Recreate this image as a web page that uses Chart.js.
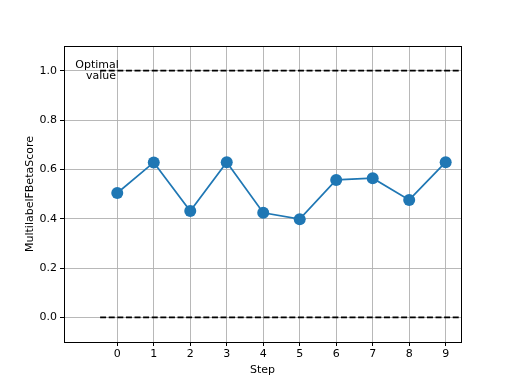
<!DOCTYPE html>
<html>
<head>
<meta charset="utf-8">
<script src="https://cdn.jsdelivr.net/npm/chart.js@4"></script>
<style>
  html, body { margin: 0; padding: 0; background: #fff; }
  #wrap { width: 512px; height: 384px; }
</style>
</head>
<body>
<div id="wrap"><canvas id="chart" width="512" height="384"></canvas></div>
<script>
const steps = [0, 1, 2, 3, 4, 5, 6, 7, 8, 9];
const scores = [0.504, 0.628, 0.431, 0.629, 0.424, 0.398, 0.557, 0.564, 0.476, 0.629];
const optimalValue = 1.0;
const worstValue = 0.0;
const refLineStart = -0.47;
const xTicks = [0, 1, 2, 3, 4, 5, 6, 7, 8, 9];
const yTicks = [0.0, 0.2, 0.4, 0.6, 0.8, 1.0];
const xRange = [-1.46, 9.42];
const yRange = [-0.1, 1.1];

Chart.defaults.font.family = "'DejaVu Sans', sans-serif";
Chart.defaults.font.size = 11;
Chart.defaults.color = '#000';

let frame = {
  id: 'frame',
  afterDraw(chart) {
    const ctx = chart.ctx, a = chart.chartArea;
    ctx.save();
    ctx.strokeStyle = '#000';
    ctx.lineWidth = 1;
    ctx.strokeRect(Math.round(a.left) + 0.5, Math.round(a.top) + 0.5,
      Math.round(a.right - a.left), Math.round(a.bottom - a.top));
    // label next to the optimal line
    const xs = chart.scales.x, ys = chart.scales.y;
    const cx = xs.getPixelForValue(-0.555);
    const cy = ys.getPixelForValue(optimalValue);
    ctx.fillStyle = '#000';
    ctx.font = "11px 'DejaVu Sans'";
    ctx.textAlign = 'center';
    ctx.textBaseline = 'middle';
    ctx.fillText('Optimal', cx, cy - 6);
    ctx.fillText('value', cx + 4, cy + 5);
    ctx.restore();
  }
};

const config = {
  type: 'line',
  data: {
    datasets: [{
      label: 'score',
      data: steps.map((s, i) => ({x: s, y: scores[i]})),
      borderColor: '#1f77b4',
      backgroundColor: '#1f77b4',
      borderWidth: 1.7,
      pointRadius: 6,
      pointHoverRadius: 6,
      pointBorderWidth: 0,
      order: 1
    }, {
      label: 'optimal',
      data: [{x: refLineStart, y: optimalValue}, {x: xRange[1], y: optimalValue}],
      borderColor: '#000',
      borderWidth: 1.7,
      borderDash: [6, 2.6],
      pointRadius: 0,
      order: 2
    }, {
      label: 'worst',
      data: [{x: refLineStart, y: worstValue}, {x: xRange[1], y: worstValue}],
      borderColor: '#000',
      borderWidth: 1.7,
      borderDash: [6, 2.6],
      pointRadius: 0,
      order: 2
    }]
  },
  options: {
    responsive: false,
    animation: false,
    events: [],
    layout: { padding: { top: 46, right: 51, left: 0, bottom: 0 } },
    plugins: { legend: { display: false }, tooltip: { enabled: false } },
    scales: {
      x: {
        type: 'linear',
        min: xRange[0],
        max: xRange[1],
        afterBuildTicks: (s) => { s.ticks = xTicks.map(v => ({value: v})); },
        afterFit: (s) => { s.height = 42; },
        ticks: { padding: 2, callback: (v) => v.toString() },
        grid: { color: '#b0b0b0', lineWidth: 0.9, tickColor: '#000', tickLength: 4, tickWidth: 1 },
        border: { display: false },
        title: { display: true, text: 'Step', padding: { top: 0, bottom: 7 } }
      },
      y: {
        min: yRange[0],
        max: yRange[1],
        afterBuildTicks: (s) => { s.ticks = yTicks.map(v => ({value: v})); },
        afterFit: (s) => { s.width = 64; },
        ticks: { padding: 3, callback: (v) => v.toFixed(1) },
        grid: { color: '#b0b0b0', lineWidth: 0.9, tickColor: '#000', tickLength: 4, tickWidth: 1 },
        border: { display: false },
        title: { display: true, text: 'MultilabelFBetaScore', padding: { top: 24, bottom: 0 } }
      }
    }
  },
  plugins: [frame]
};

const myChart = new Chart(document.getElementById('chart'), config);
</script>
</body>
</html>
